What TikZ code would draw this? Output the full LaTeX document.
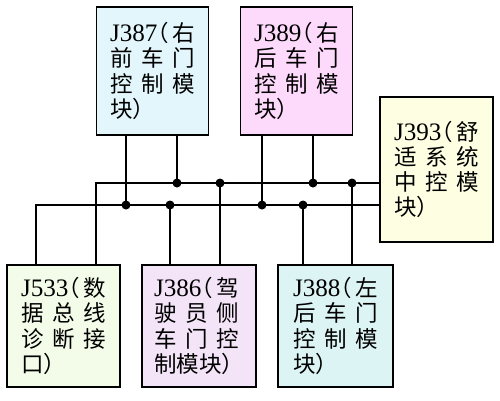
\documentclass[tikz,border=0pt]{standalone}
\usepackage{fontspec}
\setmainfont{Liberation Serif}
\newfontfamily\cjk{Noto Sans CJK SC}
\usetikzlibrary{positioning}

\definecolor{frontcyan}{HTML}{E3F6FC}
\definecolor{rearpink}{HTML}{FDD9FB}
\definecolor{comfyellow}{HTML}{FEFEE2}
\definecolor{diaggreen}{HTML}{F2FCE8}
\definecolor{drvlilac}{HTML}{F3E4F8}
\definecolor{rearcyan}{HTML}{DCF4F4}

% one line of a module label, spread over the box
\newcommand{\spread}[1]{\hbox to 1.7cm{#1}}
\newcommand{\three}[3]{\spread{#1\hfill{}#2\hfill{}#3}}
\newcommand{\modtext}[5]{\spread{{\rmfamily\fontsize{14.3}{14.3}\selectfont #1}\hskip-6pt（\hfill{}#2}\\#3\\#4\\#5}

\begin{document}
\begin{tikzpicture}[x=0.02cm, y=-0.02cm,
	module/.style={draw, line width=1.1pt, minimum width=2.24cm, minimum height=2.56cm,
		align=left, inner sep=0pt, font=\cjk\fontsize{12.8}{14.3}\selectfont},
	bus/.style={line width=1.1pt},
	jdot/.style={circle, fill=black, inner sep=0pt, minimum size=0.18cm}]
	\useasboundingbox (0,0) rectangle (500,400);

	\node[module, fill=frontcyan] (J387) at (152.5,71)
		{\modtext{J387}{右}{\three{前}{车}{门}}{\three{控}{制}{模}}{块）}};
	\node[module, fill=rearpink] (J389) at (296.5,71)
		{\modtext{J389}{右}{\three{后}{车}{门}}{\three{控}{制}{模}}{块）}};
	\node[module, fill=comfyellow, minimum width=2.26cm, minimum height=2.9cm] (J393) at (436.5,169.5)
		{\modtext{J393}{舒}{\three{适}{系}{统}}{\three{中}{控}{模}}{块）}};
	\node[module, fill=diaggreen, minimum width=2.26cm, minimum height=2.44cm] (J533) at (63.5,326)
		{\modtext{J533}{数}{\three{据}{总}{线}}{\three{诊}{断}{接}}{口）}};
	\node[module, fill=drvlilac, minimum width=2.28cm, minimum height=2.44cm] (J386) at (199,326)
		{\modtext{J386}{驾}{\three{驶}{员}{侧}}{\three{车}{门}{控}}{制模块）}};
	\node[module, fill=rearcyan, minimum width=2.3cm, minimum height=2.44cm] (J388) at (335.5,326)
		{\modtext{J388}{左}{\three{后}{车}{门}}{\three{控}{制}{模}}{块）}};

	% bus corners
	\coordinate (hi) at (96,183);
	\coordinate (lo) at (36,205);
	% junctions on the upper and lower bus
	\coordinate (hi1) at (177,183);
	\coordinate (hi2) at (220,183);
	\coordinate (hi3) at (313,183);
	\coordinate (hi4) at (352,183);
	\coordinate (lo1) at (126,205);
	\coordinate (lo2) at (170,205);
	\coordinate (lo3) at (262,205);
	\coordinate (lo4) at (303,205);

	\draw[bus] (J533.north -| hi) -- (hi) -- (hi -| J393.west);
	\draw[bus] (J533.north -| lo) -- (lo) -- (lo -| J393.west);

	\draw[bus] (J387.south -| lo1) -- (lo1);
	\draw[bus] (J387.south -| hi1) -- (hi1);
	\draw[bus] (J389.south -| lo3) -- (lo3);
	\draw[bus] (J389.south -| hi3) -- (hi3);
	\draw[bus] (lo2) -- (lo2 |- J386.north);
	\draw[bus] (hi2) -- (hi2 |- J386.north);
	\draw[bus] (lo4) -- (lo4 |- J388.north);
	\draw[bus] (hi4) -- (hi4 |- J388.north);

	\foreach \j in {hi1,hi2,hi3,hi4,lo1,lo2,lo3,lo4}
		\node[jdot] at (\j) {};
\end{tikzpicture}
\end{document}
